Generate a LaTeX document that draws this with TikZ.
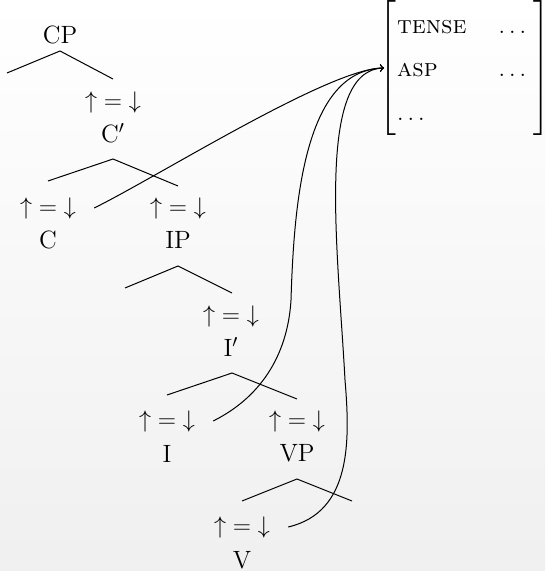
\documentclass[tikz,border=0pt]{standalone}
\usepackage{amsmath,amssymb}
\usetikzlibrary{arrows,positioning}

\tikzset{
  cat/.style={inner sep=1pt},
  eq/.style={inner sep=4pt},
  branch/.style={line width=0.5pt},
  link/.style={->,line width=0.5pt,shorten >=1pt},
}
\newcommand{\headeq}{${\uparrow}={\downarrow}$}

\begin{document}
\begin{tikzpicture}[>=to,x=0.5pt,y=-0.5pt,font=\fontsize{12.5}{15}\selectfont]

\fill[top color=white,bottom color=black!6] (0,0) rectangle (545,571);
\useasboundingbox (0,0) rectangle (545,571);

% c-structure
\node[cat]	(cp)	at (60,35)	{CP};
\node[eq]	(eq-cbar)	at (113,103)	{\headeq};
\node[cat]	(cbar)	at (113,133)	{C$'$};
\node[eq]	(eq-c)	at (48,208)	{\headeq};
\node[cat]	(c)	at (48,240)	{C};
\node[eq]	(eq-ip)	at (178,208)	{\headeq};
\node[cat]	(ip)	at (178,240)	{IP};
\node[eq]	(eq-ibar)	at (231,316)	{\headeq};
\node[cat]	(ibar)	at (231,347)	{I$'$};
\node[eq]	(eq-i)	at (167,421)	{\headeq};
\node[cat]	(i)	at (167,454)	{I};
\node[eq]	(eq-vp)	at (297,421)	{\headeq};
\node[cat]	(vp)	at (297,453)	{VP};
\node[eq]	(eq-v)	at (242,527)	{\headeq};
\node[cat]	(v)	at (242,560)	{V};

% branch points
\coordinate (cp-top)	at (60,51);
\coordinate (spec-cp)	at (7,73);
\coordinate (cbar-r)	at (113,79);
\coordinate (cbar-top)	at (113,159);
\coordinate (c-l)	at (48,181);
\coordinate (ip-r)	at (178,186);
\coordinate (ip-top)	at (178,266);
\coordinate (spec-ip)	at (125,288);
\coordinate (ibar-r)	at (232,293);
\coordinate (ibar-top)	at (232,373);
\coordinate (i-l)	at (167,395);
\coordinate (vp-r)	at (297,399);
\coordinate (vp-top)	at (297,479);
\coordinate (v-l)	at (242,501);
\coordinate (comp-v)	at (352,501);

\draw[branch] (spec-cp) -- (cp-top) -- (cbar-r);
\draw[branch] (c-l) -- (cbar-top) -- (ip-r);
\draw[branch] (spec-ip) -- (ip-top) -- (ibar-r);
\draw[branch] (i-l) -- (ibar-top) -- (vp-r);
\draw[branch] (v-l) -- (vp-top) -- (comp-v);

% f-structure
\node[inner sep=0pt,anchor=west] (fs) at (379,68)
	{$\renewcommand{\arraystretch}{1.45}\left[\begin{array}{@{\hspace{0.5pt}}l@{\hspace{16pt}}l@{\hspace{3.5pt}}}
	\textsc{tense} & \ldots \\
	\textsc{asp} & \ldots \\
	\ldots &
	\end{array}\right]$};

% projections
\draw[link] ([xshift=5pt]eq-c.east) .. controls (159,176) and (330,68) .. ([xshift=3.5pt]fs.west);
\draw[link] ([xshift=5pt]eq-i.east) .. controls (265,395) and (288,350) .. (291,300)
	.. controls (294,200) and (305,70) .. ([xshift=3.5pt]fs.west);
\draw[link] ([xshift=5pt]eq-v.east) .. controls (352,512) and (350,440) .. (345,380)
	.. controls (338,250) and (315,70) .. ([xshift=3.5pt]fs.west);

\end{tikzpicture}
\end{document}
